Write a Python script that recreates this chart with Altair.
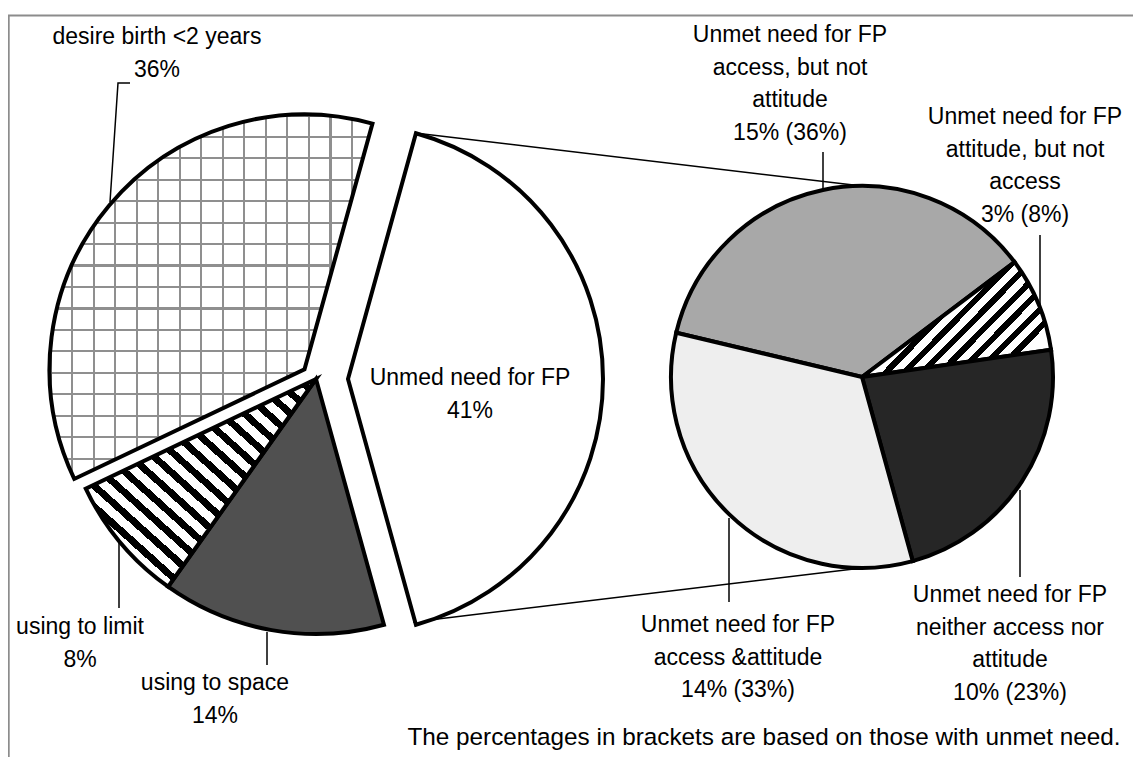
import math
import altair as alt
import pandas as pd

# ---------------- data ----------------
main_categories = ["Unmed need for FP", "using to space", "using to limit", "desire birth <2 years"]
main_values = [41, 14, 8, 36]
main_pct_labels = ["41%", "14%", "8%", "36%"]

sub_categories = ["access, but not attitude", "attitude, but not access",
                  "neither access nor attitude", "access &attitude"]
sub_values_total = [15, 3, 10, 14]          # % of all women
sub_values_share = [36, 8, 23, 33]          # % of those with unmet need
sub_label_lines = ["access, but not\nattitude", "attitude, but not\naccess",
                   "neither access nor\nattitude", "access &attitude"]
sub_prefix = "Unmet need for FP"
footnote = "The percentages in brackets are based on those with unmet need."

# ---------------- tables ----------------
main_df = pd.DataFrame({"category": main_categories, "value": main_values,
                        "order": list(range(len(main_values)))})
sub_df = pd.DataFrame({"category": sub_categories, "value": sub_values_share,
                       "order": list(range(len(sub_values_share)))})

OFF = 8  # page margin
FONT = "Liberation Sans"
FS = 23
LH = 32.5


def P(x, y):
    return x - OFF, y - OFF


def stripes(n, frac, c_on, c_off, x1, y1, x2, y2):
    stops = []
    for i in range(n):
        s, m, e = i / n, (i + frac) / n, (i + 1) / n
        stops += [{"color": c_on, "offset": s}, {"color": c_on, "offset": m},
                  {"color": c_off, "offset": m}, {"color": c_off, "offset": e}]
    return {"gradient": "linear", "stops": stops, "x1": x1, "y1": y1, "x2": x2, "y2": y2}


CLEAR = "rgba(255,255,255,0)"


def slice_layers(df, total, a0, center, r, cat, fills, explode=0):
    cx, cy = P(*center)
    base = (alt.Chart(df)
            .transform_window(cum1="sum(value)", sort=[{"field": "order"}])
            .transform_calculate(cum0="datum.cum1 - datum.value")
            .transform_calculate(mid=f"{a0} + (datum.cum0 + datum.cum1) / 2 / {total} * 2 * PI")
            .transform_calculate(px=f"{cx} + {explode} * sin(datum.mid)",
                                 py=f"{cy} - {explode} * cos(datum.mid)")
            .transform_filter(alt.datum.category == cat))
    enc = dict(
        theta=alt.Theta("cum0:Q", scale=alt.Scale(domain=[0, total], range=[a0, a0 + 2 * math.pi]),
                        stack=False),
        theta2="cum1:Q",
        x=alt.X("px:Q", scale=None, axis=None),
        y=alt.Y("py:Q", scale=None, axis=None),
    )
    layers = []
    for f in fills:
        layers.append(base.mark_arc(radius=r, fill=f, strokeWidth=0).encode(**enc))
    layers.append(base.mark_arc(radius=r, fill=CLEAR, stroke="black", strokeWidth=4,
                                strokeJoin="miter").encode(**enc))
    return layers


# ---------------- big pie ----------------
big_total = sum(main_values)
big_a0 = math.pi / 2 - math.pi * main_values[0] / big_total
big_center = (316, 379)
big_r = 255

grid_h = stripes(17, 0.1, "#8f8f8f", CLEAR, 0, 0, 0, 1)
grid_v = stripes(15, 0.1, "#8f8f8f", CLEAR, 0, 0, 1, 0)
limit_fill = stripes(20, 0.45, "black", "white", 0, 1, 1, 0)

big_layers = []
big_layers += slice_layers(main_df, big_total, big_a0, big_center, big_r, main_categories[0], ["white"], explode=32)
big_layers += slice_layers(main_df, big_total, big_a0, big_center, big_r, main_categories[1], ["#505050"])
big_layers += slice_layers(main_df, big_total, big_a0, big_center, big_r, main_categories[2], [limit_fill])
big_layers += slice_layers(main_df, big_total, big_a0, big_center, big_r, main_categories[3],
                           ["white", grid_h, grid_v], explode=15)

# ---------------- small pie ----------------
small_total = sum(sub_values_share)
small_a0 = math.radians(283.4)
small_center = (862, 377)
small_r = 191
att_fill = stripes(14, 0.45, "black", "white", 0, 0, 1, 0.6)

small_layers = []
small_layers += slice_layers(sub_df, small_total, small_a0, small_center, small_r, sub_categories[0], ["#a8a8a8"])
small_layers += slice_layers(sub_df, small_total, small_a0, small_center, small_r, sub_categories[1], [att_fill])
small_layers += slice_layers(sub_df, small_total, small_a0, small_center, small_r, sub_categories[2], ["#262626"])
small_layers += slice_layers(sub_df, small_total, small_a0, small_center, small_r, sub_categories[3], ["#eeeeee"])

# ---------------- lines (connectors, leaders, frame) ----------------
line_paths = {
    "conn_top": [(415, 133), (862, 186)],
    "conn_bot": [(413, 622), (862, 568)],
    "lead_desire": [(130, 83), (118, 83), (110, 202)],
    "lead_limit": [(119, 537), (119, 608)],
    "lead_space": [(267, 632), (267, 665)],
    "lead_acc": [(823, 152), (823, 189)],
    "lead_att": [(1040, 235), (1040, 307)],
    "lead_accatt": [(729, 518), (729, 602)],
    "lead_neither": [(1020, 490), (1020, 577)],
}
rows = []
for k, pts in line_paths.items():
    for i, (x, y) in enumerate(pts):
        px, py = P(x, y)
        rows.append({"id": k, "i": i, "x": px, "y": py})
lines_df = pd.DataFrame(rows)
lines = alt.Chart(lines_df).mark_line(color="black", strokeWidth=1.5).encode(
    x=alt.X("x:Q", scale=None, axis=None), y=alt.Y("y:Q", scale=None, axis=None),
    detail="id:N", order="i:Q")

frame_rows = []
for k, pts in {"top": [(8, 15.5), (1141, 15.5)], "left": [(8.8, 15.5), (8.8, 770)]}.items():
    for i, (x, y) in enumerate(pts):
        px, py = P(x, y)
        frame_rows.append({"id": k, "i": i, "x": px, "y": py})
frame = alt.Chart(pd.DataFrame(frame_rows)).mark_line(color="#8c8c8c", strokeWidth=1.8).encode(
    x=alt.X("x:Q", scale=None, axis=None), y=alt.Y("y:Q", scale=None, axis=None),
    detail="id:N", order="i:Q")

# ---------------- labels ----------------
label_texts = [
    main_categories[3] + "\n" + main_pct_labels[3],
    main_categories[2] + "\n" + main_pct_labels[2],
    main_categories[1] + "\n" + main_pct_labels[1],
    main_categories[0] + "\n" + main_pct_labels[0],
]
for lines_txt, t, s in zip(sub_label_lines, sub_values_total, sub_values_share):
    label_texts.append(f"{sub_prefix}\n{lines_txt}\n{t}% ({s}%)")

# centre of the first line of each label
label_pos = [(157, 37), (80, 627), (215, 683), (470, 378),
             (790, 35), (1025, 117), (1010, 595), (738, 625)]
lab_rows = []
for txt, (x, y) in zip(label_texts, label_pos):
    px, py = P(x, y)
    lab_rows.append({"t": txt, "x": px, "y": py})
labels = alt.Chart(pd.DataFrame(lab_rows)).mark_text(
    font=FONT, fontSize=FS, lineHeight=LH, lineBreak="\n", align="center", baseline="middle",
    color="black").encode(
    x=alt.X("x:Q", scale=None, axis=None), y=alt.Y("y:Q", scale=None, axis=None), text="t:N")

fx, fy = P(764, 738)
note = alt.Chart(pd.DataFrame({"t": [footnote], "x": [fx], "y": [fy]})).mark_text(
    font=FONT, fontSize=24.3, align="center", baseline="middle", color="black").encode(
    x=alt.X("x:Q", scale=None, axis=None), y=alt.Y("y:Q", scale=None, axis=None), text="t:N")

big = alt.layer(*big_layers)
small = alt.layer(*small_layers)

chart = (alt.layer(frame, lines, big, small, labels, note)
         .resolve_scale(theta="independent")
         .properties(width=1125, height=749, padding=0, autosize="none")
         .configure_view(strokeWidth=0))

chart.save("out.html", embed_options={"renderer": "svg", "actions": False})
